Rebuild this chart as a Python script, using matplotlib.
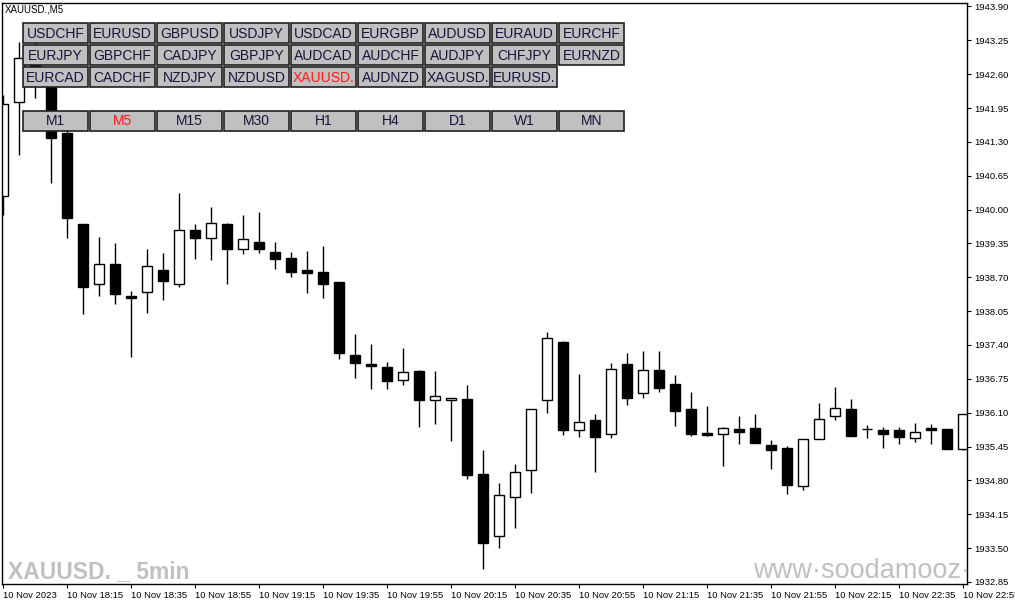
import numpy as np
import matplotlib
matplotlib.use('Agg')
import matplotlib.pyplot as plt
from matplotlib.patches import Rectangle

plt.rcParams['font.family'] = ['Liberation Sans', 'DejaVu Sans']

# === datos OHLC (velas de 5 min, XAUUSD.) ===
opens = [1940.26, 1942.07, 1942.87, 1942.45, 1941.47, 1939.72, 1938.57, 1938.96, 1938.34, 1938.42,
         1938.84, 1938.57, 1939.61, 1939.45, 1939.72, 1939.24, 1939.38, 1939.19, 1939.07, 1938.84,
         1938.80, 1938.61, 1937.21, 1937.04, 1936.98, 1936.72, 1936.90, 1936.34, 1936.34, 1936.36,
         1934.92, 1933.73, 1934.49, 1934.99, 1936.34, 1937.46, 1935.76, 1935.96, 1935.69, 1937.04,
         1936.47, 1936.91, 1936.65, 1936.17, 1935.71, 1935.70, 1935.79, 1935.81, 1935.48, 1935.42,
         1934.70, 1935.59, 1936.03, 1936.17, 1935.78, 1935.77, 1935.77, 1935.61, 1935.81, 1935.79,
         1935.40]
highs = [1942.20, 1943.22, 1943.26, 1942.68, 1941.57, 1939.72, 1939.47, 1939.36, 1938.44, 1939.24,
         1939.17, 1940.32, 1939.72, 1940.05, 1939.74, 1939.90, 1939.95, 1939.38, 1939.19, 1939.21,
         1939.30, 1938.61, 1937.61, 1937.42, 1937.07, 1937.34, 1936.92, 1936.90, 1936.38, 1936.63,
         1935.38, 1934.75, 1935.12, 1936.18, 1937.65, 1937.47, 1936.84, 1936.07, 1937.05, 1937.25,
         1937.28, 1937.28, 1936.82, 1936.50, 1936.23, 1935.83, 1936.04, 1936.08, 1935.58, 1935.46,
         1935.60, 1936.29, 1936.59, 1936.36, 1935.86, 1935.83, 1935.83, 1935.90, 1935.88, 1935.79,
         1936.07]
lows = [1939.90, 1941.05, 1942.14, 1940.51, 1939.45, 1938.00, 1938.34, 1938.19, 1937.17, 1938.01,
        1938.26, 1938.51, 1939.05, 1939.03, 1938.57, 1939.15, 1939.17, 1938.86, 1938.71, 1938.40,
        1938.30, 1937.14, 1936.77, 1936.56, 1936.56, 1936.64, 1935.83, 1935.89, 1935.56, 1934.83,
        1933.10, 1933.51, 1933.89, 1934.56, 1936.10, 1935.68, 1935.64, 1934.97, 1935.62, 1936.25,
        1936.39, 1936.50, 1935.84, 1935.66, 1935.66, 1935.08, 1935.50, 1935.52, 1935.02, 1934.53,
        1934.62, 1935.59, 1935.95, 1935.66, 1935.62, 1935.43, 1935.49, 1935.54, 1935.49, 1935.41,
        1935.38]
closes = [1942.03, 1942.91, 1942.45, 1941.38, 1939.84, 1938.51, 1938.96, 1938.38, 1938.31, 1938.92,
          1938.63, 1939.61, 1939.45, 1939.74, 1939.24, 1939.44, 1939.24, 1939.05, 1938.80, 1938.79,
          1938.57, 1937.25, 1937.06, 1937.00, 1936.71, 1936.88, 1936.35, 1936.42, 1936.38, 1934.91,
          1933.60, 1934.52, 1934.97, 1936.18, 1937.53, 1935.77, 1935.92, 1935.64, 1936.93, 1936.39,
          1936.91, 1936.58, 1936.14, 1935.70, 1935.67, 1935.81, 1935.72, 1935.52, 1935.39, 1934.72,
          1935.60, 1935.98, 1936.19, 1935.66, 1935.78, 1935.70, 1935.64, 1935.72, 1935.77, 1935.41,
          1936.07]

# etiquetas del eje x (una cada 4 velas)
time_labels = ['10 Nov 2023', '10 Nov 18:15', '10 Nov 18:35', '10 Nov 18:55', '10 Nov 19:15',
               '10 Nov 19:35', '10 Nov 19:55', '10 Nov 20:15', '10 Nov 20:35', '10 Nov 20:55',
               '10 Nov 21:15', '10 Nov 21:35', '10 Nov 21:55', '10 Nov 22:15', '10 Nov 22:35',
               '10 Nov 22:55']
price_ticks = [1932.85, 1933.50, 1934.15, 1934.80, 1935.45, 1936.10, 1936.75, 1937.40, 1938.05,
               1938.70, 1939.35, 1940.00, 1940.65, 1941.30, 1941.95, 1942.60, 1943.25, 1943.90]

# botones de simbolos y periodos
symbol_rows = [
    ['USDCHF', 'EURUSD', 'GBPUSD', 'USDJPY', 'USDCAD', 'EURGBP', 'AUDUSD', 'EURAUD', 'EURCHF'],
    ['EURJPY', 'GBPCHF', 'CADJPY', 'GBPJPY', 'AUDCAD', 'AUDCHF', 'AUDJPY', 'CHFJPY', 'EURNZD'],
    ['EURCAD', 'CADCHF', 'NZDJPY', 'NZDUSD', 'XAUUSD.', 'AUDNZD', 'XAGUSD.', 'EURUSD.'],
]
timeframes = ['M1', 'M5', 'M15', 'M30', 'H1', 'H4', 'D1', 'W1', 'MN']
active = ['XAUUSD.', 'M5']

# === figura ===
W, H = 1015, 605
fig = plt.figure(figsize=(W / 100, H / 100), dpi=100)
ax = fig.add_axes([2 / W, 21 / H, 965 / W, 581 / H])

o = np.array(opens)
c = np.array(closes)
idx = np.arange(len(o))
up = c >= o

ax.vlines(idx, lows, highs, color='black', linewidth=1, zorder=1)
ax.bar(idx, np.maximum(np.abs(c - o), 0.001), width=0.62, bottom=np.minimum(o, c),
       color=np.where(up, 'white', 'black'), edgecolor='black', linewidth=1, zorder=2)

ax.set_xlim(-0.06, 60.25)
ax.set_ylim(1932.81, 1943.967)

ax.yaxis.tick_right()
ax.set_yticks(price_ticks)
ax.set_yticklabels([f'{p:.2f}' for p in price_ticks])
ax.set_xticks(np.arange(0, len(o), 4))
ax.set_xticklabels(time_labels)
for t in ax.get_xticklabels():
    t.set_horizontalalignment('left')
ax.tick_params(axis='both', direction='out', length=3, width=0.8, labelsize=6.8, pad=2)
for s in ax.spines.values():
    s.set_linewidth(1)

# marcas de agua
ax.text(6 / 965, 6 / 581, 'XAUUSD. _ 5min', transform=ax.transAxes, fontsize=16.5,
        fontweight='bold', color='#c0c0c0', va='baseline', ha='left', clip_on=True)
ax.text(751 / 965, 6 / 581, 'www·soodamooz·com', transform=ax.transAxes, fontsize=19.5,
        color='#c0c0c0', va='baseline', ha='left', clip_on=True)

fig.text(5 / W, 1 - 9 / H, 'XAUUSD.,M5', fontsize=7, va='center', ha='left')

# === botones ===
def button(x, y, label):
    fig.add_artist(Rectangle((x / W, 1 - (y + 20) / H), 65 / W, 20 / H, transform=fig.transFigure,
                             facecolor='#c0c0c0', edgecolor='#202020', linewidth=1.2, zorder=5))
    col = '#ff1a1a' if label in active else '#14143c'
    fig.text((x + 32.5) / W, 1 - (y + 10.5) / H, label, fontsize=10, color=col,
             ha='center', va='center', zorder=6)

for r, row in enumerate(symbol_rows):
    for i, name in enumerate(row):
        button(23 + 67 * i, 23 + 22 * r, name)
for i, tf in enumerate(timeframes):
    button(23 + 67 * i, 111, tf)

fig.savefig('out.png', dpi=100)
